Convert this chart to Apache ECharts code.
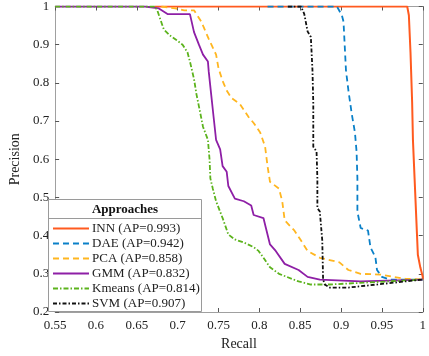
<!DOCTYPE html>
<html>
<head>
<meta charset="utf-8">
<script src="https://cdn.jsdelivr.net/npm/echarts@6/dist/echarts.min.js"></script>
<style>
  html, body { margin: 0; padding: 0; background: #fff; }
  #chart { width: 429px; height: 356px; }
</style>
</head>
<body>
<div id="chart"></div>
<script>
// PR curves, [recall, precision]
const innData = [[0.672, 1], [0.981, 1], [0.983, 0.977], [0.985, 0.88], [0.987, 0.75], [0.988, 0.65],
  [0.99, 0.55], [0.993, 0.4], [0.994, 0.35], [0.997, 0.317], [1, 0.292], [1, 0.285]]
const daeData = [[0.81, 1], [0.895, 1], [0.901, 0.977], [0.903, 0.96], [0.906, 0.833], [0.909, 0.78],
  [0.913, 0.72], [0.917, 0.67], [0.919, 0.62], [0.92, 0.55], [0.92, 0.463], [0.924, 0.42],
  [0.933, 0.413], [0.936, 0.369], [0.942, 0.344], [0.944, 0.31], [0.95, 0.292], [0.959, 0.285], [1, 0.285]]
const pcaData = [[0.68, 1], [0.697, 0.995], [0.708, 0.99], [0.72, 0.99], [0.729, 0.96], [0.738, 0.915],
  [0.747, 0.874], [0.75, 0.838], [0.755, 0.805], [0.76, 0.78], [0.766, 0.76], [0.776, 0.745],
  [0.787, 0.71], [0.793, 0.695], [0.801, 0.67], [0.807, 0.633], [0.81, 0.582], [0.813, 0.541],
  [0.824, 0.523], [0.828, 0.49], [0.831, 0.44], [0.843, 0.413], [0.851, 0.387], [0.859, 0.36],
  [0.874, 0.342], [0.886, 0.336], [0.898, 0.33], [0.909, 0.31], [0.924, 0.3], [0.948, 0.298],
  [0.964, 0.292], [0.979, 0.287], [1, 0.285]]
const gmmData = [[0.55, 1], [0.66, 1], [0.677, 0.995], [0.688, 0.98], [0.715, 0.98], [0.72, 0.933],
  [0.726, 0.9], [0.731, 0.874], [0.737, 0.856], [0.738, 0.83], [0.741, 0.77], [0.744, 0.71],
  [0.747, 0.651], [0.752, 0.626], [0.755, 0.582], [0.76, 0.567], [0.762, 0.53], [0.77, 0.497],
  [0.781, 0.49], [0.79, 0.479], [0.793, 0.454], [0.805, 0.446], [0.808, 0.42], [0.813, 0.377],
  [0.82, 0.36], [0.831, 0.326], [0.848, 0.31], [0.859, 0.292], [0.874, 0.285], [0.924, 0.28], [1, 0.285]]
const kmeansData = [[0.55, 1], [0.672, 1], [0.675, 0.99], [0.683, 0.94], [0.69, 0.925], [0.698, 0.913],
  [0.706, 0.9], [0.712, 0.88], [0.715, 0.856], [0.72, 0.81], [0.723, 0.77], [0.727, 0.728],
  [0.731, 0.685], [0.737, 0.651], [0.739, 0.6], [0.74, 0.55], [0.743, 0.523], [0.747, 0.49],
  [0.755, 0.446], [0.762, 0.403], [0.77, 0.39], [0.781, 0.382], [0.793, 0.37], [0.799, 0.36],
  [0.805, 0.342], [0.813, 0.317], [0.824, 0.3], [0.848, 0.28], [0.863, 0.272], [0.886, 0.272], [1, 0.285]]
const svmData = [[0.835, 1], [0.851, 1], [0.855, 0.98], [0.859, 0.935], [0.863, 0.92], [0.865, 0.833],
  [0.866, 0.746], [0.866, 0.633], [0.87, 0.62], [0.871, 0.55], [0.871, 0.472], [0.874, 0.463],
  [0.877, 0.387], [0.878, 0.285], [0.88, 0.272], [0.886, 0.264], [0.909, 0.264], [1, 0.285]]

const names = ['INN (AP=0.993)', 'DAE (AP=0.942)', 'PCA (AP=0.858)', 'GMM (AP=0.832)', 'Kmeans (AP=0.814)', 'SVM (AP=0.907)']
const colors = ['#ff5a1f', '#0a80c8', '#ffb620', '#8e1fa6', '#5cb31d', '#111111']
const dashes = ['solid', [6, 4], [6, 4], 'solid', [5, 2, 1.5, 2], [4, 2, 1.5, 2]]
const curves = [innData, daeData, pcaData, gmmData, kmeansData, svmData]

const font = '"Liberation Serif", "Times New Roman", serif'
const frame = '#a0a0a0'

const chart = echarts.init(document.getElementById('chart'), null, { renderer: 'canvas' })

const fmt = v => String(+v.toFixed(2))

const option = {
  animation: false,
  backgroundColor: '#fff',
  grid: { left: 41, right: 2, top: 4, bottom: 38 },
  xAxis: [
    {
      type: 'value', min: 0.55, max: 1, interval: 0.05,
      name: 'Recall', nameLocation: 'middle', nameGap: 25,
      nameTextStyle: { fontFamily: font, fontSize: 14, color: '#222' },
      axisLine: { lineStyle: { color: frame } },
      axisTick: { inside: true, length: 4, lineStyle: { color: '#555' } },
      axisLabel: { formatter: fmt, fontFamily: font, fontSize: 13, color: '#222', margin: 7 },
      splitLine: { show: false }
    },
    {
      type: 'value', min: 0.55, max: 1, interval: 0.05, position: 'top',
      axisLine: { lineStyle: { color: frame } },
      axisTick: { inside: true, length: 4, lineStyle: { color: '#555' } },
      axisLabel: { show: false },
      splitLine: { show: false }
    }
  ],
  yAxis: [
    {
      type: 'value', min: 0.2, max: 1, interval: 0.1,
      name: 'Precision', nameLocation: 'middle', nameGap: 31,
      nameTextStyle: { fontFamily: font, fontSize: 14, color: '#222' },
      axisLine: { lineStyle: { color: frame } },
      axisTick: { inside: true, length: 4, lineStyle: { color: '#555' } },
      axisLabel: { formatter: fmt, fontFamily: font, fontSize: 13, color: '#222', margin: 6 },
      splitLine: { show: false }
    },
    {
      type: 'value', min: 0.2, max: 1, interval: 0.1, position: 'right',
      axisLine: { lineStyle: { color: frame } },
      axisTick: { inside: true, length: 4, lineStyle: { color: '#555' } },
      axisLabel: { show: false },
      splitLine: { show: false }
    }
  ],
  legend: {
    orient: 'vertical',
    left: 52, top: 222, padding: 0,
    itemWidth: 36, itemHeight: 12, itemGap: 2,
    data: names,
    itemStyle: { opacity: 0 },
    textStyle: { fontFamily: font, fontSize: 13, color: '#222', padding: [0, 0, 0, -2] },
    z: 6
  },
  graphic: [
    {
      type: 'rect', z: 5,
      shape: { x: 48.5, y: 199.5, width: 153, height: 112 },
      style: { fill: '#fff', stroke: '#9a9a9a', lineWidth: 1 }
    },
    {
      type: 'line', z: 5,
      shape: { x1: 48.5, y1: 218.5, x2: 201.5, y2: 218.5 },
      style: { stroke: '#9a9a9a', lineWidth: 1 }
    },
    {
      type: 'text', z: 6, x: 125, y: 210,
      style: { text: 'Approaches', fontFamily: font, fontSize: 13, fontWeight: 'bold', fill: '#111', align: 'center', verticalAlign: 'middle' }
    }
  ],
  series: curves.map((d, i) => ({
    name: names[i],
    type: 'line',
    data: d,
    symbol: 'none',
    lineStyle: { color: colors[i], width: i === 0 ? 2 : 1.8, type: dashes[i] },
    itemStyle: { color: colors[i] },
    z: 2 + i * 0.01
  }))
}

chart.setOption(option)
</script>
</body>
</html>
